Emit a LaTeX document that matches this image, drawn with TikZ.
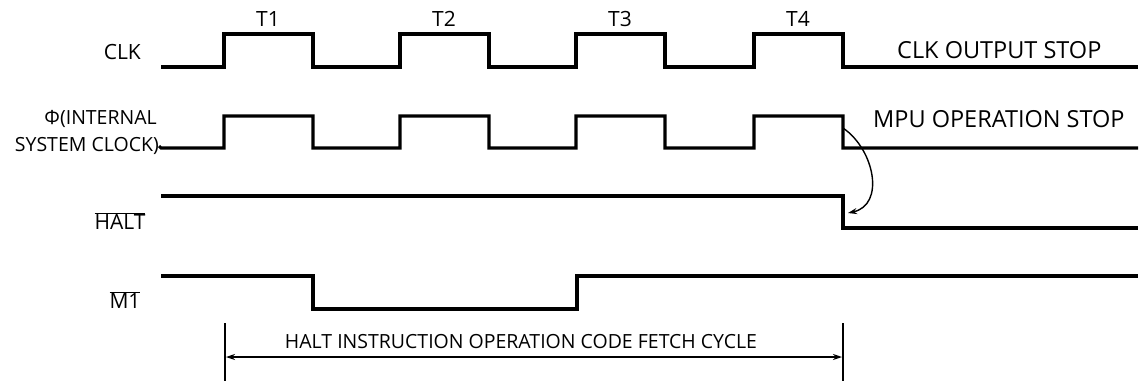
\documentclass[tikz,border=0pt]{standalone}
\usepackage{fontspec}
\setmainfont{Open Sans}
\usetikzlibrary{positioning, arrows.meta}

\begin{document}
\begin{tikzpicture}[>={Stealth[length=9pt,width=6pt]}, x=1pt, y=-1pt,
  wave/.style={line width=3.1pt, line join=miter},
  thinline/.style={line width=1.4pt},
  lbl/.style={inner sep=0pt, font=\fontsize{21}{24}\selectfont},
  smalllbl/.style={inner sep=0pt, font=\fontsize{19.5}{22}\selectfont},
  biglbl/.style={inner sep=0pt, font=\fontsize{23.5}{26}\selectfont}]
  \useasboundingbox (0,0) rectangle (1140,381);
  % signal names
  \node[lbl,anchor=east] (clkL) at (141,52) {CLK};
  \node[smalllbl,anchor=east] (phiL) at (157,119) {Φ(INTERNAL};
  \node[smalllbl,anchor=east] (phiLb) at (159,146) {SYSTEM CLOCK)};
  \node[lbl] (haltL) at (120,221) {$\overline{\mbox{HALT}}$};
  \node[lbl] (m1L) at (125,300) {$\overline{\mbox{M1}}$};
  % clock states
  \node[lbl] (t1) at (268,19) {T1};
  \node[lbl] (t2) at (444,19) {T2};
  \node[lbl] (t3) at (620,19) {T3};
  \node[lbl] (t4) at (798,19) {T4};
  % CLK
  \draw[wave] (161,67) foreach \r in {224,400,576,754} {
    -- (\r,67) -- (\r,34) -- ({\r+89},34) -- ({\r+89},67) } -- (1138,67);
  \node[biglbl,anchor=west] (clkstop) at (897,50) {CLK OUTPUT STOP};
  % internal system clock
  \draw[wave] (phiLb.east) -- (161,148) foreach \r in {224,400,576,754} {
    -- (\r,148) -- (\r,116) -- ({\r+89},116) -- ({\r+89},148) } -- (1138,148);
  \node[biglbl,anchor=west] (mpustop) at (873,119) {MPU OPERATION STOP};
  % HALT
  \draw[wave] (161,196) -- (843,196) -- (843,228) -- (1138,228);
  % M1
  \draw[wave] (161,276) -- (313,276) -- (313,309) -- (577,309) -- (577,276) -- (1138,276);
  % stop arrow
  \coordinate (phiedge) at (843,128);
  \coordinate (haltedge) at (848,213);
  \draw[thinline,->] (phiedge) .. controls (875,150) and (885,205) .. (haltedge);
  % fetch cycle
  \coordinate (fetchA) at (226,357);
  \coordinate (fetchB) at (842,357);
  \draw[thinline] (225,323) -- (225,381);
  \draw[thinline] (843,323) -- (843,381);
  \draw[thinline,<->] (fetchA) -- (fetchB);
  \node[smalllbl] (fetch) at (521,342) {HALT INSTRUCTION OPERATION CODE FETCH CYCLE};
\end{tikzpicture}
\end{document}
